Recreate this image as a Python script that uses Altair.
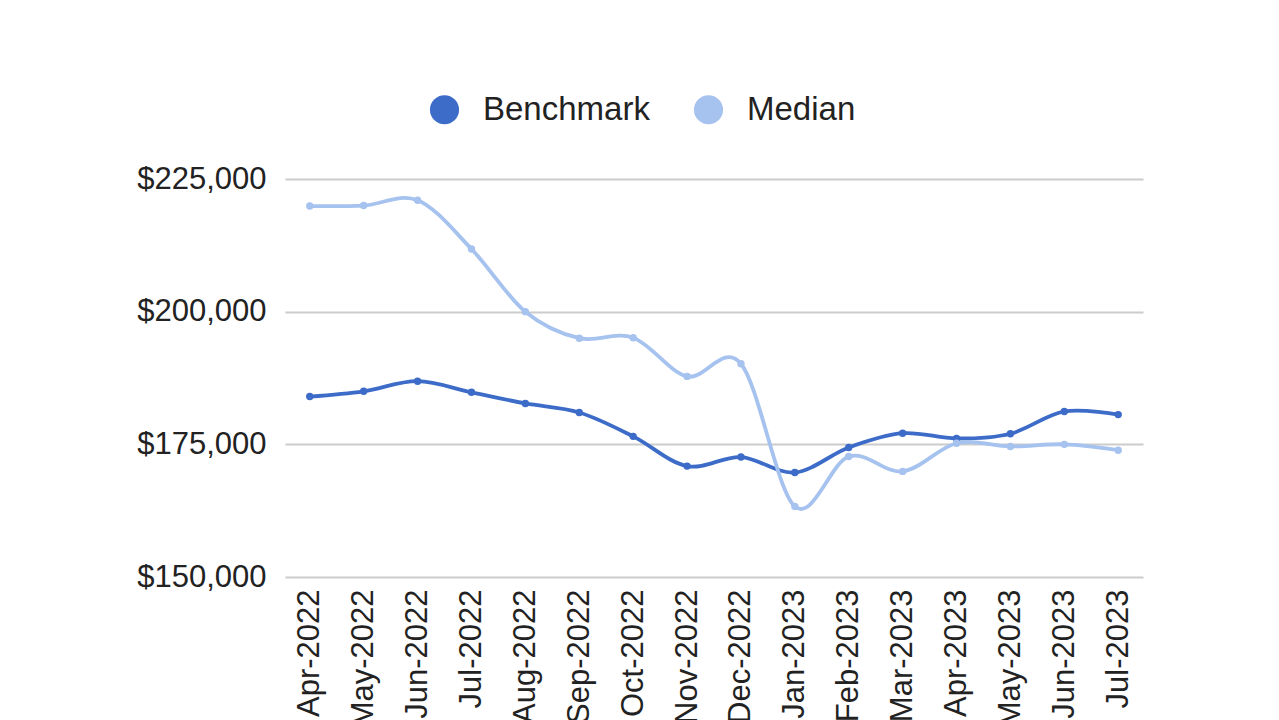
import altair as alt
import pandas as pd

months = ["Apr-2022", "May-2022", "Jun-2022", "Jul-2022", "Aug-2022", "Sep-2022",
          "Oct-2022", "Nov-2022", "Dec-2022", "Jan-2023", "Feb-2023", "Mar-2023",
          "Apr-2023", "May-2023", "Jun-2023", "Jul-2023"]
benchmark = [184000, 185000, 186900, 184800, 182700, 181000, 176500, 170900,
             172600, 169700, 174400, 177100, 176100, 177000, 181200, 180600]
median = [219900, 220000, 221000, 211800, 200000, 195000, 195100, 187800,
          190200, 163300, 172700, 169900, 175200, 174600, 175000, 173900]
series = ["Benchmark", "Median"]
colors = ["#3c6bc8", "#a6c2ee"]

df = pd.DataFrame({
    "month": months * 2,
    "value": benchmark + median,
    "series": ["Benchmark"] * len(months) + ["Median"] * len(months),
})

font = "Liberation Sans"
x = alt.X("month:N", sort=months, title=None,
          scale=alt.Scale(type="point", padding=0.46),
          axis=alt.Axis(labelAngle=-90, labelAlign="right", labelBaseline="middle",
                        labelFontSize=31, labelPadding=12, labelColor="#222222",
                        domain=False, ticks=False, grid=False, labelFont=font))
y = alt.Y("value:Q", title=None,
          scale=alt.Scale(domain=[150000, 225000], nice=False, zero=False),
          axis=alt.Axis(values=[150000, 175000, 200000, 225000], format="$,.0f",
                        labelFontSize=31, labelPadding=19, labelColor="#222222",
                        domain=False, ticks=False, gridColor="#cccccc", gridWidth=2,
                        labelFont=font))
color_scale = alt.Scale(domain=series, range=colors)
legend = alt.Legend(title=None, orient="none", direction="horizontal",
                    legendX=143, legendY=-86, symbolType="circle",
                    symbolSize=850, symbolStrokeWidth=0, labelFontSize=33,
                    labelFont=font, labelColor="#222222", labelOffset=22,
                    labelLimit=300, columnPadding=42, symbolOpacity=1)
color = alt.Color("series:N", scale=color_scale, legend=legend)

lines = alt.Chart(df).mark_line(interpolate="cardinal", strokeWidth=3.8).encode(
    x=x, y=y, color=color,
)
points = alt.Chart(df).mark_circle(size=55, opacity=1).encode(
    x=x, y=y, color=color,
)

chart = (lines + points).properties(
    width=858, height=398,
    autosize=alt.AutoSizeParams(type="none"),
    padding={"left": 277, "top": 171, "right": 128, "bottom": 143},
).configure_view(stroke=None)

chart.save("out.html", embed_options={"renderer": "svg", "actions": False})
